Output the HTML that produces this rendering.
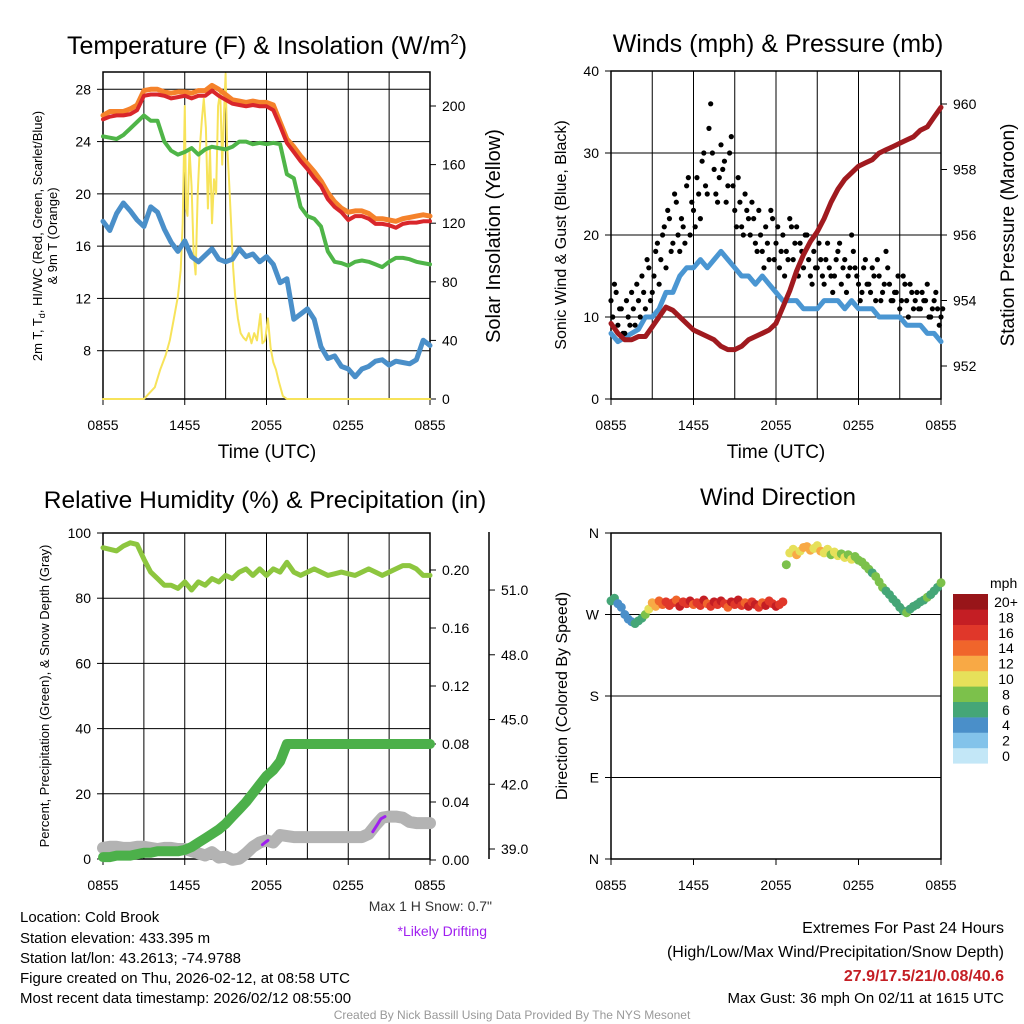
<!DOCTYPE html>
<html><head><meta charset="utf-8"><style>
body{margin:0;background:#fff}
svg{display:block;font-family:"Liberation Sans",sans-serif}
</style></head><body>
<svg id="s" width="1024" height="1024" viewBox="0 0 1024 1024" xmlns="http://www.w3.org/2000/svg">
<rect width="1024" height="1024" fill="#fff"/>
<text x="267" y="54" font-size="25" text-anchor="middle">Temperature (F) &amp; Insolation (W/m<tspan font-size="15" dy="-10">2</tspan><tspan dy="10">)</tspan></text>
<text x="778" y="52" font-size="25" text-anchor="middle">Winds (mph) &amp; Pressure (mb)</text>
<text x="265" y="508" font-size="24.5" text-anchor="middle">Relative Humidity (%) &amp; Precipitation (in)</text>
<text x="778" y="505" font-size="24" text-anchor="middle">Wind Direction</text>
<text x="267" y="458" font-size="19" text-anchor="middle">Time (UTC)</text>
<text x="776" y="458" font-size="19" text-anchor="middle">Time (UTC)</text>
<text transform="translate(42,236) rotate(-90)" font-size="13" text-anchor="middle">2m T, T<tspan font-size="9" dy="3">d</tspan><tspan dy="-3">, HI/WC (Red, Green, Scarlet/Blue)</tspan></text>
<text transform="translate(57,236) rotate(-90)" font-size="13" text-anchor="middle">&amp; 9m T (Orange)</text>
<text transform="translate(500,236) rotate(-90)" font-size="20" text-anchor="middle">Solar Insolation (Yellow)</text>
<text transform="translate(566,235) rotate(-90)" font-size="16" text-anchor="middle">Sonic Wind &amp; Gust (Blue, Black)</text>
<text transform="translate(1014,235) rotate(-90)" font-size="19" text-anchor="middle">Station Pressure (Maroon)</text>
<text transform="translate(49,696) rotate(-90)" font-size="13" text-anchor="middle">Percent, Precipitation (Green), &amp; Snow Depth (Gray)</text>
<text transform="translate(567,696) rotate(-90)" font-size="16" text-anchor="middle">Direction (Colored By Speed)</text>
<g font-size="15">
<text x="20" y="922">Location: Cold Brook</text>
<text x="20" y="943">Station elevation: 433.395 m</text>
<text x="20" y="963">Station lat/lon: 43.2613; -74.9788</text>
<text x="20" y="983">Figure created on Thu, 2026-02-12, at 08:58 UTC</text>
<text x="20" y="1003">Most recent data timestamp: 2026/02/12 08:55:00</text>
</g>
<text x="492" y="911" font-size="14" text-anchor="end" fill="#333">Max 1 H Snow: 0.7"</text>
<text x="487" y="936" font-size="14" text-anchor="end" fill="#a020f0">*Likely Drifting</text>
<g font-size="16" text-anchor="end">
<text x="1004" y="933">Extremes For Past 24 Hours</text>
<text x="1004" y="957">(High/Low/Max Wind/Precipitation/Snow Depth)</text>
<text x="1004" y="981" fill="#c41e24" font-weight="bold">27.9/17.5/21/0.08/40.6</text>
<text x="1004" y="1003" font-size="15">Max Gust: 36 mph On 02/11 at 1615 UTC</text>
</g>
<text x="512" y="1019" font-size="12" text-anchor="middle" fill="#999">Created By Nick Bassill Using Data Provided By The NYS Mesonet</text>
</svg>
<script>
// ---- data (half-hourly unless noted) ----
const tempRed=[25.7,25.9,26,26,26.1,26.4,27.5,27.6,27.6,27.5,27.3,27.4,27.5,27.3,27.5,27.5,27.9,27.5,27.2,26.9,26.8,26.7,26.8,26.7,26.7,26.4,25.2,23.9,23.2,22.5,21.9,21.2,20.6,19.6,19.0,18.6,18.0,18.3,18.3,18.1,17.7,17.7,17.6,17.4,17.7,17.8,17.8,17.9,17.9];
const temp9m=[26.0,26.3,26.3,26.3,26.5,26.8,27.9,28.0,28.0,27.8,27.7,27.8,27.8,27.7,27.9,27.9,28.3,28.0,27.6,27.2,27.1,27.0,27.1,27.0,27.0,26.8,25.5,24.2,23.6,22.9,22.3,21.7,21.0,20.1,19.4,18.9,18.6,18.7,18.7,18.5,18.1,18.1,18.0,17.9,18.1,18.2,18.3,18.4,18.3];
const dewGreen=[24.4,24.3,24.2,24.5,25.0,25.5,26.0,25.6,25.6,24.0,23.3,23.0,23.2,23.5,23.0,23.4,23.6,23.5,23.4,23.6,24.0,24.0,23.8,23.9,23.8,23.9,23.8,21.5,21.2,19.0,18.3,18.1,17.5,15.6,14.8,14.7,14.5,14.8,14.9,14.8,14.6,14.4,14.8,15.1,15.1,15.0,14.8,14.7,14.6];
const chillBlue=[17.9,17.2,18.5,19.3,18.7,18.0,17.5,19.0,18.6,17.3,16.3,15.6,16.4,15.2,14.8,15.3,15.8,15.0,14.8,15.0,15.8,15.2,15.4,14.8,15.2,14.6,13.2,13.5,10.4,10.8,11.2,10.4,8.3,7.4,7.6,6.8,6.6,6.0,6.6,6.8,7.2,7.3,6.9,7.2,7.1,7.0,7.3,8.8,8.4];
const solarHours=[0,3,3.3,3.8,4.2,4.6,4.9,5.2,5.5,5.7,5.85,6.0,6.1,6.2,6.35,6.5,6.65,6.8,6.95,7.1,7.25,7.4,7.55,7.7,7.85,8.0,8.15,8.3,8.45,8.6,8.75,8.9,9.0,9.1,9.25,9.4,9.55,9.7,9.9,10.1,10.3,10.5,10.7,10.9,11.1,11.3,11.55,11.7,11.9,12.1,12.3,12.5,12.7,12.9,13.2,13.5,24];
const solarVals=[0,0,3,8,20,30,40,55,70,88,120,200,130,125,170,145,100,85,140,170,190,205,185,130,170,120,150,140,200,210,160,200,222,175,150,120,90,70,55,45,42,40,45,38,45,40,58,38,40,55,35,25,20,12,2,0,0];
const windSonic=[8,7,7.5,8,8.5,10,10,11,13,13,15,16,16,17,16,17,18,17,16,15,15,14,15,14,13,12,12,12,11,11,11,12,12,12,11,12,11,11,11,10,10,10,10,9,9,9,8,8,7];
// quarter-hourly gusts
const gustA=[12,14,9,11,8,10,13,9,12,15,11,16,13,18,14,20,16,22,19,24,18,21,26,20,23,27,22,30,25,36,28,24,31,29,26,32,23,27,21,25,22,24,19,23,18,21,17,22,19,16,20,18,22,17,21,19,16,20,15,18,16,17,14,19,15,15,18,14,17,15,20,16,14,13,17,14,16,12,15,13,18,14,12,13,11,15,12,14,11,13,11,12,14,10,12,11,10];
const gustB=[10,13,11,8,12,9,11,14,10,13,17,12,15,19,17,21,23,18,25,20,22,19,27,24,21,25,29,26,33,30,25,27,28,24,30,26,21,24,20,23,20,22,18,20,16,19,23,17,21,18,15,17,21,19,15,18,20,17,14,16,19,15,17,16,13,17,19,16,13,16,18,15,12,16,14,13,15,17,12,14,16,12,13,15,12,14,10,13,12,11,13,12,10,11,13,9,11];
const pressure=[953.3,953.0,952.8,952.8,952.9,952.9,953.2,953.5,953.8,953.7,953.5,953.3,953.1,953.0,952.9,952.8,952.6,952.5,952.5,952.6,952.8,952.9,953.0,953.1,953.3,953.8,954.3,954.9,955.4,955.8,956.1,956.5,957.0,957.4,957.7,957.9,958.1,958.2,958.3,958.5,958.6,958.7,958.8,958.9,959.0,959.2,959.3,959.6,959.9];
const rhVals=[95.5,95,94.5,96,97,96.5,92,88,86,84,84,83,85,82.5,85,84,86,85,87,86,88,89,87,89,87,89,88,91,88,87,88,89,88,87,87.5,88,87.5,87,88,89,88,87,88,89,90,90,89,87,87];
const precipVals=[0.002,0.002,0.003,0.003,0.003,0.004,0.005,0.005,0.006,0.006,0.006,0.006,0.007,0.009,0.012,0.015,0.018,0.021,0.025,0.030,0.035,0.040,0.046,0.052,0.058,0.062,0.068,0.080,0.080,0.080,0.080,0.080,0.080,0.080,0.080,0.080,0.080,0.080,0.080,0.080,0.080,0.080,0.080,0.080,0.080,0.080,0.080,0.080,0.080];
const snowVals=[39.05,39.1,39.1,39.05,39.05,39.1,39.1,39.05,39.0,39.05,39.05,39.0,39.0,38.9,38.8,38.7,38.85,38.6,38.65,38.5,38.55,38.8,39.1,39.3,39.4,39.3,39.65,39.6,39.55,39.55,39.55,39.55,39.55,39.55,39.55,39.55,39.55,39.55,39.55,39.7,40.1,40.45,40.5,40.5,40.45,40.25,40.2,40.2,40.2];
const driftHours=[[11.7,11.9,12.1],[19.8,20.1,20.4,20.7]];
const driftVals=[[39.2,39.3,39.4],[39.8,40.1,40.4,40.5]];
// quarter-hourly direction (deg) and speed (mph)
const dirVals=[285,288,282,278,270,265,262,260,263,266,270,276,283,279,285,281,284,280,283,286,279,284,282,285,281,283,280,286,282,279,284,281,285,282,278,284,281,286,280,283,279,284,281,278,283,280,285,282,279,281,284,325,338,342,336,340,344,345,341,343,346,340,338,342,336,339,335,337,333,336,331,334,330,328,324,320,316,312,306,300,296,292,287,283,278,274,272,276,279,281,284,286,289,292,296,300,305];
const spdVals=[6,6,5,5,4,4,5,6,7,7,8,11,12,13,14,15,16,16,17,15,18,16,17,19,15,17,16,18,14,17,19,16,18,17,15,18,16,19,17,15,18,16,18,17,15,19,16,17,18,16,17,9,10,11,12,11,12,13,12,11,10,12,11,10,9,10,11,9,10,9,10,9,8,9,8,8,7,8,9,8,7,7,6,7,6,7,8,7,6,7,6,7,8,7,6,7,8];
const speedColors=["#c3e7f7","#83c3ea","#4a8fc9","#45a677","#7cc14b","#e6e05a","#f8a945","#f0652b","#e0372a","#c41e24","#981519"];
const speedLabels=["0","2","4","6","8","10","12","14","16","18","20+"];
const timeLabels=["0855","1455","2055","0255","0855"];
const timeLabelHours=[0,6,12,18,24];
const tempTicks=[8,12,16,20,24,28];
const solarTicks=[0,40,80,120,160,200];
const windTicks=[0,10,20,30,40];
const presTicks=[952,954,956,958,960];
const rhTicks=[0,20,40,60,80,100];
const precTicks=[0,0.04,0.08,0.12,0.16,0.20];
const snowTicks=[39,42,45,48,51];
const dirTicks=[0,90,180,270,360];
const dirLabels=["N","E","S","W","N"];

const NS="http://www.w3.org/2000/svg";
const svg=document.getElementById('s');
function mk(tag,attrs,parent){const e=document.createElementNS(NS,tag);for(const k in attrs)e.setAttribute(k,attrs[k]);(parent||svg).appendChild(e);return e;}
function path(pts){return pts.map((p,i)=>(i?'L':'M')+p[0].toFixed(1)+' '+p[1].toFixed(1)).join('');}

const P1={x0:103,x1:430,y0:72,y1:399}, P2={x0:611,x1:941,y0:71,y1:399}, P3={x0:103,x1:430,y0:533,y1:859}, P4={x0:611,x1:941,y0:533,y1:859};
const x1=t=>P1.x0+t*(P1.x1-P1.x0)/24, y1L=v=>89.3+(28-v)*13.07, y1R=w=>399-w*1.465;
const x2=t=>P2.x0+t*(P2.x1-P2.x0)/24, y2L=v=>399-v*8.2, y2R=p=>366-(p-952)*32.75;
const x3=t=>P3.x0+t*(P3.x1-P3.x0)/24, y3L=v=>859-v*3.26, y3P=p=>860-p*1450, y3S=s=>849-(s-39)*21.58;
const x4=t=>P4.x0+t*(P4.x1-P4.x0)/24, y4=d=>859-d*326/360;

function frame(P,name,vgrid){
  const g=mk('g',{});
  
  
  if(vgrid){for(let h=3;h<24;h+=3){const xx=P.x0+h*(P.x1-P.x0)/24;const l=mk('line',{x1:xx,x2:xx,y1:P.y0,y2:P.y1,stroke:'#000','stroke-width':1},g);
    
    }}
  const r=mk('rect',{x:P.x0,y:P.y0,width:P.x1-P.x0,height:P.y1-P.y0,fill:'none',stroke:'#000','stroke-width':1.5},g);
  
  
  for(let i=0;i<timeLabels.length;i++){const xx=P.x0+timeLabelHours[i]*(P.x1-P.x0)/24;
    const tk=mk('line',{x1:xx,x2:xx,y1:P.y1,y2:P.y1+6,stroke:'#000'},g);
    
    
    const t=mk('text',{x:xx,y:P.y1+31,'font-size':14,'text-anchor':'middle'},g);t.textContent=timeLabels[i];
    
    }
  return g;
}
function yAxis(g,ticks,fn,xPos,side,fmt,grid,P,labels){
  ticks.forEach((v,i)=>{const yy=fn(v);
    if(grid&&yy>P.y0+1&&yy<P.y1-1){const l=mk('line',{x1:P.x0,x2:P.x1,y1:yy,y2:yy,stroke:'#000'},g);
      
      }
    const tk=mk('line',{x1:xPos,x2:xPos+(side<0?-6:6),y1:yy,y2:yy,stroke:'#000'},g);
    
    
    const t=mk('text',{x:xPos+(side<0?-12:12),y:yy+5,'font-size':14,'text-anchor':side<0?'end':'start'},g);
    t.textContent=labels?labels[i]:fmt(v);
    
    });
}
function line(g,xs,ys,color,w,name){const p=mk('path',{d:path(xs.map((x,i)=>[x,ys[i]])),fill:'none',stroke:color,'stroke-width':w,'stroke-linejoin':'round','stroke-linecap':'round'},g);
  
  return p;}
const half=i=>i*0.5, qtr=i=>i*0.25;

// ---- Panel 1 ----
const g1=frame(P1,'temperature-panel',true);
yAxis(g1,tempTicks,y1L,P1.x0,-1,v=>v,true,P1);
yAxis(g1,solarTicks,y1R,P1.x1,1,v=>v,false,P1);
line(g1,solarHours.map(x1),solarVals.map(y1R),'#f7e35a',2,'solar-line');
line(g1,chillBlue.map((v,i)=>x1(half(i))),chillBlue.map(y1L),'#4a8fc9',5,'windchill-line');
line(g1,dewGreen.map((v,i)=>x1(half(i))),dewGreen.map(y1L),'#4fb548',4,'dewpoint-line');
line(g1,temp9m.map((v,i)=>x1(half(i))),temp9m.map(y1L),'#f5822b',5,'temp-9m-line');
line(g1,tempRed.map((v,i)=>x1(half(i))),tempRed.map(y1L),'#d9262b',4,'temp-2m-line');

// ---- Panel 2 ----
const g2=frame(P2,'wind-panel',true);
yAxis(g2,windTicks,y2L,P2.x0,-1,v=>v,true,P2);
yAxis(g2,presTicks,y2R,P2.x1,1,v=>v,false,P2);
line(g2,windSonic.map((v,i)=>x2(half(i))),windSonic.map(y2L),'#4a96d2',5,'sonic-wind-line');
gustA.forEach((v,i)=>{const c=mk('circle',{cx:x2(qtr(i)),cy:y2L(v),r:2.6,fill:'#000'},g2);
  
  });
gustB.forEach((v,i)=>{const c=mk('circle',{cx:x2(qtr(i)+0.125),cy:y2L(v),r:2.6,fill:'#000'},g2);
  
  });
line(g2,pressure.map((v,i)=>x2(half(i))),pressure.map(y2R),'#a01a1f',5,'pressure-line');

// ---- Panel 3 ----
const g3=frame(P3,'humidity-panel',true);
yAxis(g3,rhTicks,y3L,P3.x0,-1,v=>v,true,P3);
yAxis(g3,precTicks,y3P,P3.x1,1,v=>v.toFixed(2),false,P3);
const ax=mk('line',{x1:489,x2:489,y1:532,y2:859,stroke:'#000','stroke-width':1.5},g3);


yAxis(g3,snowTicks,y3S,489,1,v=>v.toFixed(1),false,P3);
line(g3,snowVals.map((v,i)=>x3(half(i))),snowVals.map(y3S),'#b3b3b3',12,'snow-depth-line');
driftHours.forEach((hs,k)=>line(g3,hs.map(x3),driftVals[k].map(y3S),'#a020f0',3,'drifting-segment'));
line(g3,precipVals.map((v,i)=>x3(half(i))),precipVals.map(y3P),'#4cb04a',10,'precip-line');
line(g3,rhVals.map((v,i)=>x3(half(i))),rhVals.map(y3L),'#8dc63f',5,'rh-line');

// ---- Panel 4 ----
const g4=frame(P4,'direction-panel',false);
yAxis(g4,dirTicks,y4,P4.x0,-1,v=>v,true,P4,dirLabels);
dirVals.forEach((d,i)=>{const bin=Math.min(10,Math.floor(spdVals[i]/2));
  const c=mk('circle',{cx:x4(qtr(i)),cy:y4(d),r:4.5,fill:speedColors[bin]},g4);
  
  });
const cb=mk('g',{});


const mt=mk('text',{x:990,y:588,'font-size':14},cb);mt.textContent='mph';


speedColors.forEach((c,i)=>{const yy=594+(10-i)*15.4;
  const r=mk('rect',{x:953,y:yy,width:35,height:15.6,fill:c},cb);
  
  
  const t=mk('text',{x:1006,y:yy+13,'font-size':14,'text-anchor':'middle'},cb);t.textContent=speedLabels[i];
  
  });
</script>
</body></html>
